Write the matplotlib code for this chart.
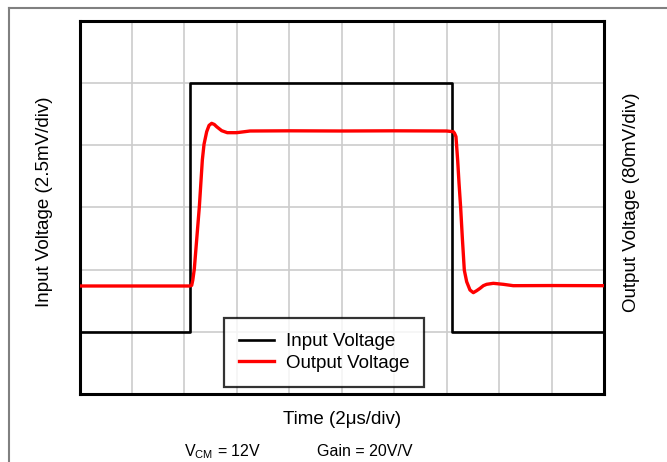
import numpy as np
import matplotlib
matplotlib.use("Agg")
import matplotlib.pyplot as plt
from matplotlib.lines import Line2D

plt.rcParams['font.family'] = ['Liberation Sans', 'DejaVu Sans']

# time in divisions (2us/div), voltage in divisions
input_t = [0, 2.1, 2.1, 7.1, 7.1, 10]
input_v = [1, 1, 5, 5, 1, 1]

output_t = [0, 2.10, 2.139, 2.16, 2.189, 2.285, 2.342, 2.374, 2.425, 2.47, 2.520, 2.57, 2.615,
            2.711, 2.818, 2.997, 3.251, 4.0, 5.0, 6.0, 7.0, 7.127, 7.15, 7.178, 7.21, 7.236,
            7.267, 7.30, 7.337, 7.382, 7.445, 7.509, 7.573, 7.636, 7.70, 7.763, 7.890, 8.08,
            8.27, 9.0, 10.0]
output_v = [1.735, 1.735, 1.745, 1.83, 2.008, 3.009, 3.759, 4.011, 4.214, 4.315, 4.348, 4.33, 4.294,
            4.230, 4.198, 4.198, 4.225, 4.228, 4.225, 4.228, 4.225, 4.214, 4.19, 4.134, 3.76, 3.39,
            3.0, 2.5, 1.99, 1.804, 1.671, 1.628, 1.66, 1.697, 1.74, 1.762, 1.778, 1.762,
            1.74, 1.742, 1.74]

fig = plt.figure(figsize=(6.67, 4.62), dpi=100)
ax = fig.add_axes([0.1192, 0.1472, 0.7863, 0.8084])

ax.plot(input_t, input_v, color='black', lw=1.9, label='Input Voltage', zorder=3)
ax.plot(output_t, output_v, color='#ff0000', lw=2.4, label='Output Voltage', zorder=4)

ax.set_xlim(0, 10)
ax.set_ylim(0, 6)
ax.set_xticks(np.arange(0, 11))
ax.set_yticks(np.arange(0, 7))
ax.grid(True, color='#cccccc', lw=1.2)
ax.tick_params(length=0, labelbottom=False, labelleft=False)
for s in ax.spines.values():
    s.set_linewidth(2.2)
    s.set_color('black')

ax.set_xlabel('Time (2μs/div)', fontsize=13.5, labelpad=12)

leg = ax.legend(loc='lower center', bbox_to_anchor=(0.466, 0.019), borderaxespad=0,
                fontsize=13.5, frameon=True, fancybox=False, handlelength=1.9,
                labelspacing=0.25, borderpad=0.8, handletextpad=0.6)
leg.get_frame().set_edgecolor('black')
leg.get_frame().set_linewidth(1.6)
leg.set_zorder(10)

fig.text(45 / 667, 1 - 202 / 462, 'Input Voltage (2.5mV/div)', rotation=90,
         ha='center', va='center', fontsize=13.5)
fig.text(632 / 667, 1 - 202 / 462, 'Output Voltage (80mV/div)', rotation=90,
         ha='center', va='center', fontsize=13.5)

fig.text(184 / 667, 1 - 452 / 462, r'$\mathregular{V_{CM}}$ = 12V', ha='left',
         va='center', fontsize=11.5)
fig.text(317 / 667, 1 - 452 / 462, 'Gain = 20V/V', ha='left', va='center', fontsize=11.5)

# outer frame lines
fig.add_artist(Line2D([9 / 667, 9 / 667], [0, 1 - 8 / 462], color='#808080', lw=1.5))
fig.add_artist(Line2D([9 / 667, 1], [1 - 8 / 462, 1 - 8 / 462], color='#808080', lw=1.5))

fig.savefig('out.png', dpi=100)
